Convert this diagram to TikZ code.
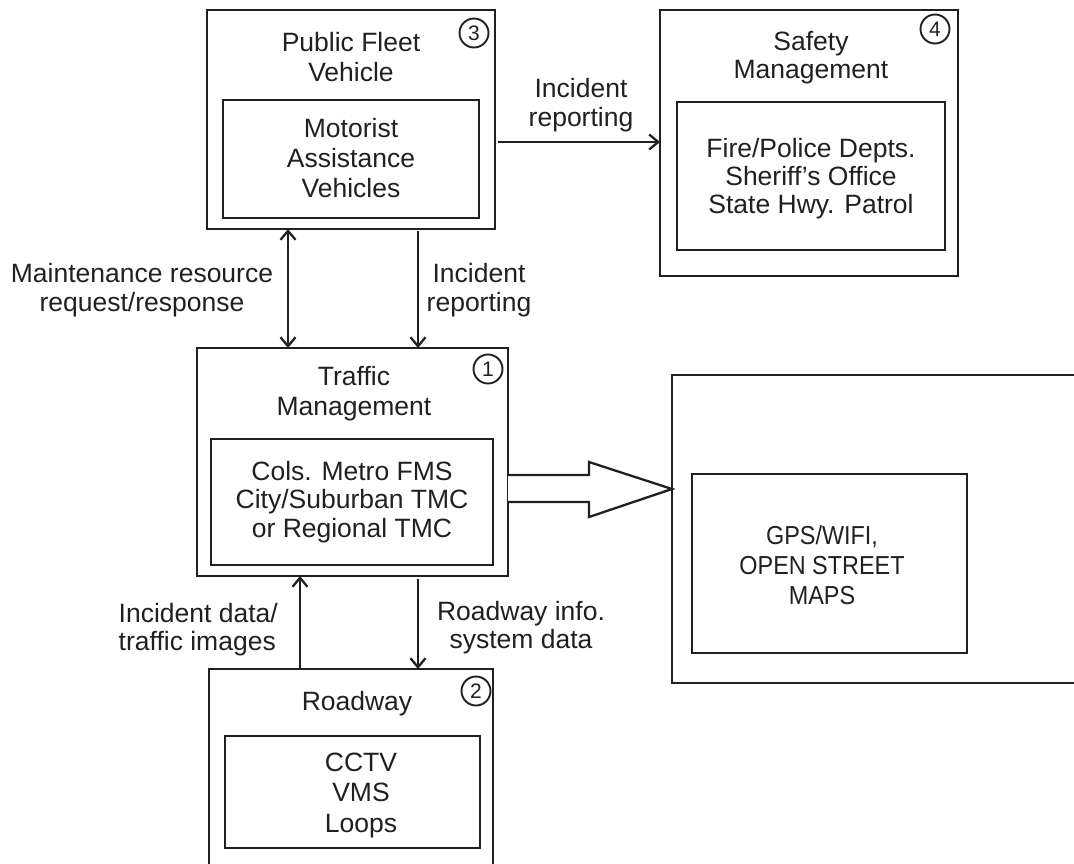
\documentclass[tikz,border=0pt]{standalone}
\usepackage{fontspec}
\setmainfont{Liberation Sans}
\newfontfamily\narrowfont{Liberation Sans}[FakeStretch=0.9]
\usetikzlibrary{arrows.meta}
\definecolor{ink}{HTML}{231F20}
\begin{document}
\begin{tikzpicture}[x=1pt,y=-1pt,
  box/.style={draw=ink,line width=2.6pt,anchor=north west,inner sep=0pt,outer sep=0pt},
  lbl/.style={anchor=base,inner sep=0pt,text=ink,font=\fontsize{26.5}{30}\selectfont},
  lble/.style={lbl,anchor=base east},
  gtxt/.style={lbl,font=\narrowfont\fontsize{26}{30}\selectfont},
  num/.style={circle,draw=ink,line width=1.9pt,minimum size=29pt,inner sep=0pt,text=ink,font=\fontsize{21}{21}\selectfont},
  arr/.style={draw=ink,line width=2.3pt,-{Straight Barb[length=9pt,width=15pt]}},
  darr/.style={draw=ink,line width=2.3pt,{Straight Barb[length=9pt,width=15pt]}-{Straight Barb[length=9pt,width=15pt]}}
]
\useasboundingbox (0,0) rectangle (1074,863);
\clip (0,0) rectangle (1074,863);

% Public Fleet Vehicle (3)
\node[box,minimum width=288pt,minimum height=219pt] (b3) at (207,10) {};
\node[box,minimum width=256pt,minimum height=118pt] (b3i) at (223,100) {};
\node[lbl] (t3a) at (351,51) {Public Fleet};
\node[lbl] (t3b) at (351,81) {Vehicle};
\node[lbl] (t3c) at (351,137) {Motorist};
\node[lbl] (t3d) at (351,167) {Assistance};
\node[lbl] (t3e) at (351,197) {Vehicles};
\node[num] (n3) at (474,33) {3};

% Safety Management (4)
\node[box,minimum width=298pt,minimum height=266pt] (b4) at (660,10) {};
\node[box,minimum width=268pt,minimum height=148pt] (b4i) at (677,102) {};
\node[lbl] (t4a) at (811,50) {Safety};
\node[lbl] (t4b) at (811,78) {Management};
\node[lbl] (t4c) at (811,157) {Fire/Police Depts.};
\node[lbl] (t4d) at (811,185) {Sheriff’s Office};
\node[lbl] (t4e) at (811,213) {State Hwy. Patrol};
\node[num] (n4) at (935,29) {4};

% Traffic Management (1)
\node[box,minimum width=311pt,minimum height=228pt] (b1) at (197,348) {};
\node[box,minimum width=282pt,minimum height=126pt] (b1i) at (211,439) {};
\node[lbl] (t1a) at (354,385) {Traffic};
\node[lbl] (t1b) at (354,415) {Management};
\node[lbl] (t1c) at (352,480) {Cols. Metro FMS};
\node[lbl] (t1d) at (352,508) {City/Suburban TMC};
\node[lbl] (t1e) at (352,537) {or Regional TMC};
\node[num] (n1) at (488,369) {1};

% Roadway (2)
\node[box,minimum width=284pt,minimum height=240pt] (b2) at (209,669) {};
\node[box,minimum width=255pt,minimum height=112pt] (b2i) at (225,736) {};
\node[lbl] (t2a) at (357,710) {Roadway};
\node[lbl] (t2b) at (361,771) {CCTV};
\node[lbl] (t2c) at (361,801) {VMS};
\node[lbl] (t2d) at (361,832) {Loops};
\node[num] (n2) at (476,691) {2};

% GPS box
\node[box,minimum width=450pt,minimum height=308pt] (g) at (672,375) {};
\node[box,minimum width=275pt,minimum height=179pt] (gi) at (692,474) {};
\node[gtxt] (tga) at (822,544) {GPS/WIFI,};
\node[gtxt] (tgb) at (822,574) {OPEN STREET};
\node[gtxt] (tgc) at (822,604) {MAPS};

% connector x positions
\coordinate (xm) at (288,0);
\coordinate (xi) at (418,0);
\coordinate (xu) at (300,0);
\coordinate (yr) at (0,142);

\draw[darr] (b3.south -| xm) -- (b1.north -| xm);
\draw[arr,shorten <=2pt] (b3.south -| xi) -- (b1.north -| xi);
\draw[arr] (b2.north -| xu) -- (b1.south -| xu);
\draw[arr,shorten <=3pt] (b1.south -| xi) -- (b2.north -| xi);
\draw[arr,shorten <=3pt] (b3.east |- yr) -- (b4.west |- yr);

% big hollow arrow
\draw[draw=ink,line width=2.3pt,fill=white,line join=miter]
  (508,475) -- (589,475) -- (589,462) -- (g.west |- 0,489) -- (589,517) -- (589,502) -- (508,502);

% labels
\node[lbl] (l1a) at (581,97) {Incident};
\node[lbl] (l1b) at (581,126) {reporting};
\node[lbl] (l2a) at (142,282) {Maintenance resource};
\node[lbl] (l2b) at (142,311) {request/response};
\node[lbl] (l3a) at (479,282) {Incident};
\node[lbl] (l3b) at (479,311) {reporting};
\node[lble] (l4a) at (278,622) {Incident data/};
\node[lble] (l4b) at (276,650) {traffic images};
\node[lbl] (l5a) at (521,620) {Roadway info.};
\node[lbl] (l5b) at (521,648) {system data};
\end{tikzpicture}
\end{document}
